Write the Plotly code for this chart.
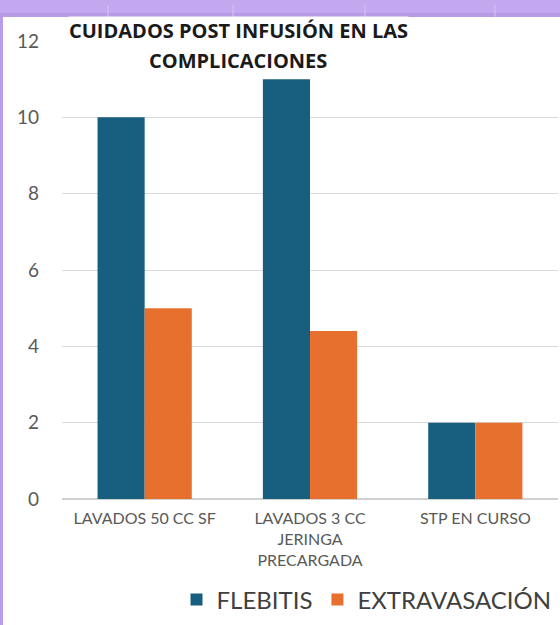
import plotly.graph_objects as go

categories = ["LAVADOS 50 CC SF", "LAVADOS 3 CC<br>JERINGA<br>PRECARGADA", "STP EN CURSO"]
flebitis = [10, 11, 2]
extravasacion = [5, 4.4, 2]
series_names = ["FLEBITIS", "EXTRAVASACIÓN"]
y_ticks = [0, 2, 4, 6, 8, 10, 12]
title_lines = ["CUIDADOS POST INFUSIÓN EN LAS", "COMPLICACIONES"]

BLUE = "#185E7F"
ORANGE = "#E8702F"
GRAY = "#595959"
FONT = "Lato"
PURPLE = "#C3A7EF"

W, H = 560, 625
ML, MR, MT, MB = 62, 2, 41, 126
PW = W - ML - MR
PH = H - MT - MB

def px_x(px):
    return (px - ML) / PW

def px_y(py):
    return (H - MB - py) / PH

fig = go.Figure()
fig.add_trace(go.Bar(name=series_names[0], x=categories, y=flebitis, marker_color=BLUE,
                     marker_line_width=0))
fig.add_trace(go.Bar(name=series_names[1], x=categories, y=extravasacion, marker_color=ORANGE,
                     marker_line_width=0))

shapes = [
    # white page area below the purple frame
    dict(type="rect", xref="paper", yref="paper", x0=px_x(3), x1=px_x(W + 5), y0=px_y(H + 5), y1=px_y(17),
         fillcolor="white", line_width=0, layer="below"),
    dict(type="rect", xref="paper", yref="paper", x0=px_x(0), x1=px_x(W + 5), y0=px_y(17), y1=px_y(13),
         fillcolor="#B79BE4", line_width=0, layer="below"),
    dict(type="rect", xref="paper", yref="paper", x0=px_x(0), x1=px_x(3), y0=px_y(H + 5), y1=px_y(17),
         fillcolor="#B99DEA", line_width=0, layer="below"),
]
for sx in [108, 233, 365, 495]:
    shapes.append(dict(type="line", xref="paper", yref="paper", x0=px_x(sx), x1=px_x(sx),
                       y0=px_y(17), y1=px_y(5), line=dict(color="#D6C6F4", width=1), layer="below"))

annotations = []
for txt, yy in zip(title_lines, [30, 60]):
    annotations.append(dict(text=f"<b>{txt}</b>", xref="paper", yref="paper", x=px_x(238), y=px_y(yy),
                            xanchor="center", yanchor="middle", showarrow=False,
                            font=dict(family="Open Sans", size=20, color="#1a1a1a"),
                            bgcolor="white", borderpad=0))

fig.update_layout(
    width=W, height=H,
    margin=dict(l=ML, r=MR, t=MT, b=MB, pad=0),
    paper_bgcolor=PURPLE, plot_bgcolor="white",
    barmode="group", bargap=0.43, bargroupgap=0,
    font=dict(family=FONT, color=GRAY),
    xaxis=dict(type="category", showgrid=False, zeroline=False, showline=False, ticks="",
               ticklabelstandoff=8, tickfont=dict(family=FONT, size=16, color=GRAY)),
    yaxis=dict(range=[0, 12], tickvals=y_ticks, showgrid=True, gridcolor="#D9D9D9", gridwidth=1,
               zeroline=True, zerolinecolor="#D0D0D0", zerolinewidth=1.5, showline=False,
               ticks="", ticklabelstandoff=22,
               tickfont=dict(family=FONT, size=19, color=GRAY)),
    legend=dict(orientation="h", x=0.997, xanchor="right", y=px_y(600), yanchor="middle",
                font=dict(family=FONT, size=24, color="#404040"), bgcolor="rgba(0,0,0,0)",
                itemwidth=30, traceorder="normal"),
    shapes=shapes,
    annotations=annotations,
    showlegend=True,
)

fig.write_html("out.html", config={"displayModeBar": False},
               post_script="document.body.style.margin='0';")
